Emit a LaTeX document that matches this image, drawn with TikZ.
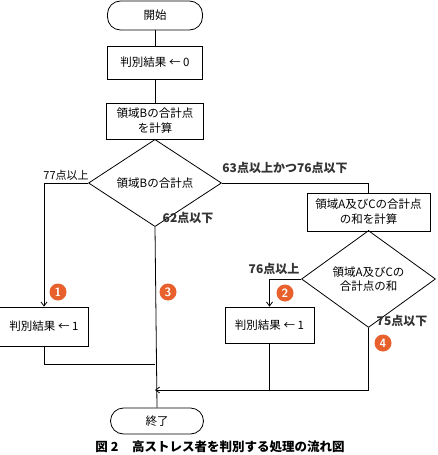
\documentclass[tikz,border=0pt]{standalone}
\usepackage{fontspec}
\newfontfamily\cjk{Noto Sans CJK JP}
\usetikzlibrary{shapes.geometric,arrows.meta}
\begin{document}
\begin{tikzpicture}[x=1pt,y=-1pt,
  every node/.style={font=\cjk\fontsize{11.5}{15}\selectfont},
  box/.style={draw,line width=0.8pt,rectangle,inner sep=1pt,align=center},
  term/.style={draw,line width=0.8pt,rectangle,rounded corners=13pt,inner sep=1pt},
  dia/.style={draw,line width=0.8pt,diamond,inner sep=0pt,align=center},
  conn/.style={line width=0.8pt},
  arr/.style={line width=0.8pt,-{Straight Barb[length=4pt,width=6pt]}},
  lab/.style={font=\cjk\bfseries\fontsize{12}{14}\selectfont,text=black!80},
  num/.style={circle,fill=numor,text=white,inner sep=0pt,minimum size=17pt,font=\sffamily\bfseries\fontsize{12}{12}\selectfont},
]
\definecolor{numor}{HTML}{E8602C}
\useasboundingbox (0,0) rectangle (438,455);
\node[term,minimum width=95pt,minimum height=29pt] (start) at (155,15.5) {開始};
\node[box,minimum width=95pt,minimum height=33pt] (b0) at (155,62.5) {判別結果 ← 0};
\node[box,minimum width=97pt,minimum height=36pt] (b1) at (155,121) {領域Bの合計点\\を計算};
\node[dia,minimum width=133pt,minimum height=49pt] (d1) at (155,183) {領域Bの合計点};
\node[box,minimum width=123pt,minimum height=38pt] (b2) at (368.5,212) {領域A及びCの合計点\\の和を計算};
\node[dia,minimum width=134pt,minimum height=60pt,font=\cjk\fontsize{11.5}{14.5}\selectfont] (d2) at (368.5,279) {領域A及びCの\\合計点の和};
\node[box,minimum width=89pt,minimum height=39pt] (bL) at (44,326.5) {判別結果 ← 1};
\node[box,minimum width=89pt,minimum height=36pt] (bR) at (269.5,325) {判別結果 ← 1};
\node[term,minimum width=93pt,minimum height=26pt] (end) at (157,421) {終了};
\coordinate (j1) at (155,364);
\coordinate (j2) at (155,390);

\draw[conn] (start) -- (b0);
\draw[conn] (b0) -- (b1);
\draw[conn] (b1) -- (d1);
\draw[arr] (d1.west) -| (bL.north);
\draw[conn] (bL.south) |- (j1);
\draw[conn] (d1.south) -- (end.north);
\draw[conn] (d1.east) -| (b2.north);
\draw[conn] (b2) -- (d2);
\draw[arr] (d2.west) -| (bR.north);
\draw[conn] (bR.south) -- (bR.south |- j2);
\draw[arr] (d2.south) |- (j2);

\node[font=\cjk\fontsize{11}{13}\selectfont] (l77) at (66,175) {77点以上};
\node[lab] (l63) at (285,168) {63点以上かつ76点以下};
\node[lab] (l62) at (188,218) {62点以下};
\node[lab] (l76) at (274,269) {76点以上};
\node[lab] (l75) at (402,321) {75点以下};
\node[num] (n1) at (58,292) {1};
\node[num] (n3) at (168,292) {3};
\node[num] (n2) at (285,293) {2};
\node[num] (n4) at (383,343) {4};
\node[font=\cjk\bfseries\fontsize{12.5}{14}\selectfont] (cap) at (220,447) {図 2\hspace{1.1em}高ストレス者を判別する処理の流れ図};
\end{tikzpicture}
\end{document}
